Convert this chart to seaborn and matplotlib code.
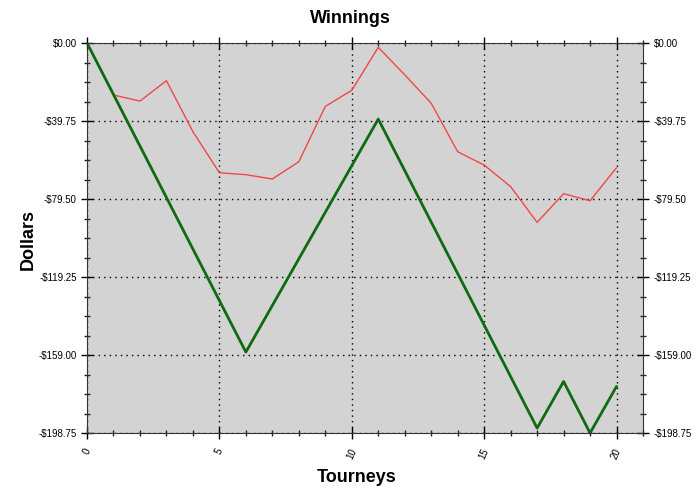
import numpy as np
import pandas as pd
import seaborn as sns
import matplotlib.pyplot as plt
from matplotlib.ticker import MultipleLocator, FuncFormatter

tourneys = list(range(21))
winnings = [0, -26.25, -52.5, -78.75, -105, -131.25, -157.5, -133.75, -110, -86.25,
            -62.5, -38.75, -65, -91.25, -117.5, -143.75, -170, -196.25, -172.5,
            -198.75, -175]
trend = [0, -26.5, -29.6, -19.2, -45.2, -66.1, -67.1, -69.3, -60.5, -32.3,
         -24.1, -2.2, -16.2, -30.7, -55.4, -62.2, -73.2, -91.4, -76.8, -80.4, -63.5]

df = pd.DataFrame({'Tourneys': tourneys, 'Winnings': winnings, 'Trend': trend})

sns.set_style('ticks', {'axes.facecolor': '#d3d3d3'})
plt.rcParams['font.family'] = ['Liberation Sans', 'DejaVu Sans']

fig = plt.figure(figsize=(7, 4.91), dpi=100)
ax = fig.add_axes([0.1243, 0.1181, 0.7943, 0.7943])

sns.lineplot(data=df, x='Tourneys', y='Trend', color='#f04848', linewidth=1, ax=ax)
sns.lineplot(data=df, x='Tourneys', y='Winnings', color='#0f6b0f', linewidth=2, ax=ax)

ax.set_xlim(0, 21)
ax.set_ylim(-198.75, 0)
ax.xaxis.set_major_locator(MultipleLocator(5))
ax.xaxis.set_minor_locator(MultipleLocator(1))
ax.yaxis.set_major_locator(MultipleLocator(39.75))
ax.yaxis.set_minor_locator(MultipleLocator(39.75 / 4))

def money(v, pos):
    return '-$%.2f' % abs(v) if v < -1e-9 else '$%.2f' % abs(v)

ax.yaxis.set_major_formatter(FuncFormatter(money))
ax.grid(True, which='major', color='black', linestyle=(0, (1, 3)), linewidth=1)

ax.tick_params(axis='both', which='major', direction='inout', length=8, width=1,
               labelsize=7, colors='black', top=True, right=True, labelright=True)
ax.tick_params(axis='both', which='minor', direction='inout', length=5, width=1,
               top=True, right=True)
ax.tick_params(axis='x', which='major', pad=6)
for lab in ax.get_xticklabels():
    lab.set_rotation(65)
for sp in ax.spines.values():
    sp.set_color('#333333')

ax.set_xlabel('')
ax.set_ylabel('')
fig.text(0.5, 0.963, 'Winnings', ha='center', va='center', fontsize=13,
         fontweight='bold', color='black')
fig.text(0.51, 0.028, 'Tourneys', ha='center', va='center', fontsize=13,
         fontweight='bold', color='black')
fig.text(0.04, 0.513, 'Dollars', ha='center', va='center', fontsize=13,
         fontweight='bold', rotation=90, color='black')

fig.savefig('out.png', dpi=100)
